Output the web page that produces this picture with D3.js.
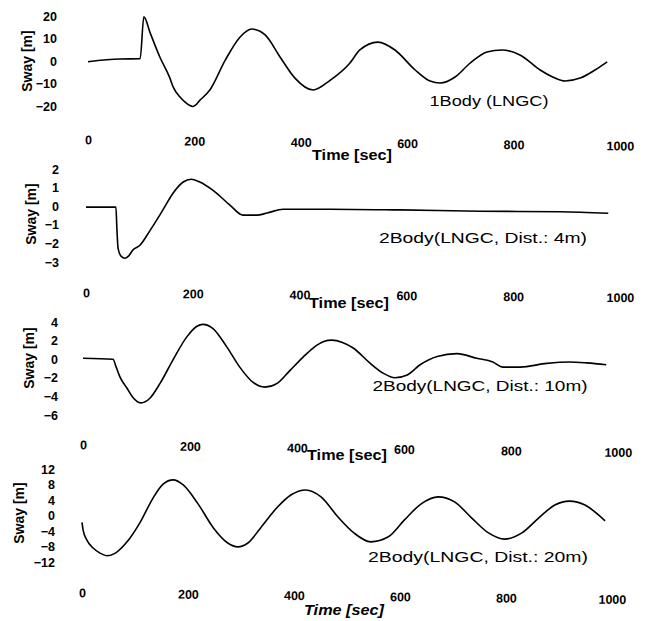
<!DOCTYPE html>
<html>
<head>
<meta charset="utf-8">
<script src="https://cdn.jsdelivr.net/npm/d3@7"></script>
<style>
  html, body { margin: 0; padding: 0; background: #fff; }
  svg { display: block; }
  text { font-family: "Liberation Sans", Arial, sans-serif; fill: #000; }
  .tick text { font-weight: bold; font-size: 12.5px; }
</style>
</head>
<body>
<svg id="chart" width="649" height="621"></svg>
<script>
// tick labels
const timeTicks = [0, 200, 400, 600, 800, 1000];
const swayTicks1 = [20, 10, 0, -10, -20];
const swayTicks2 = [2, 1, 0, -1, -2, -3];
const swayTicks3 = [4, 2, 0, -2, -4, -6];
const swayTicks4 = [12, 8, 4, 0, -4, -8, -12];

const panelNames = [
  '1Body (LNGC)',
  '2Body(LNGC, Dist.: 4m)',
  '2Body(LNGC, Dist.: 10m)',
  '2Body(LNGC, Dist.: 20m)',
];

// series: time [sec] and sway [m]
const time1 = [0, 60, 98, 105, 117, 135, 154, 160, 173, 182, 197, 211, 229, 258, 286, 308, 333, 361, 389, 423, 455, 492, 511, 545, 577, 615, 643, 662, 690, 718, 750, 778, 812, 850, 878, 897, 925, 953, 976];
const sway1 = [-0.3, 0.9, 1.0, 19.6, 12.4, 1.8, -7.6, -11.5, -16, -18.2, -20.2, -17.3, -12.9, 0.4, 10.7, 14.2, 11.6, 1.8, -7.6, -12.9, -8.6, -1, 4.9, 8.4, 4.9, -4, -8.9, -9.8, -7.1, -1, 4, 4.9, 2.7, -4, -7.6, -8.9, -7.6, -4, -0.4];

const time2 = [0, 56, 58, 60, 66, 73, 79, 88, 101, 120, 144, 163, 182, 197, 213, 238, 270, 294, 320, 339, 369, 401, 457, 588, 738, 888, 978];
const sway2 = [-0.05, -0.05, -1.3, -2.25, -2.7, -2.8, -2.7, -2.35, -2.1, -1.3, -0.2, 0.7, 1.3, 1.45, 1.3, 0.85, 0.05, -0.48, -0.48, -0.37, -0.16, -0.16, -0.16, -0.2, -0.27, -0.3, -0.38];

const time3 = [0, 56, 62, 69, 82, 93, 108, 125, 144, 168, 194, 213, 224, 243, 269, 293, 318, 340, 363, 387, 411, 430, 450, 465, 485, 505, 536, 561, 583, 606, 630, 662, 699, 736, 766, 785, 817, 867, 910, 942, 978];
const sway3 = [0.1, 0, -0.85, -1.9, -3.1, -4.1, -4.7, -4.2, -2.6, -0.1, 2.4, 3.55, 3.75, 3.3, 1.3, -0.85, -2.5, -3.0, -2.6, -1.2, 0.2, 1.2, 1.9, 2.05, 1.8, 1.2, -0.4, -1.5, -2.0, -1.7, -0.6, 0.3, 0.6, 0.1, -0.3, -0.85, -0.85, -0.45, -0.3, -0.4, -0.6];

const time4 = [0, 2, 9, 21, 34, 47, 63, 85, 110, 134, 153, 172, 191, 218, 248, 275, 294, 313, 337, 369, 394, 422, 451, 483, 513, 545, 578, 608, 640, 672, 703, 735, 767, 797, 830, 862, 892, 920, 949, 975, 987];
const sway4 = [-1.8, -3.7, -6.3, -8.4, -9.7, -10.4, -9.7, -6.8, -1.7, 4.5, 8.1, 9.2, 7.9, 3.2, -3.2, -7.1, -8.1, -7.1, -3.2, 2.2, 5.3, 6.6, 4.8, -0.4, -4.5, -6.8, -5.5, -1.2, 3.0, 4.8, 3.5, -0.6, -4.5, -6.1, -4.5, -0.6, 2.7, 3.7, 2.7, 0.1, -1.4];

// where each scanned panel sits on the page
const layout = [
  { x0: 88, x1: 620, yTop: 16, yBot: 106, tickRight: 57, xLabelY: 140, tilt: 0.65,
    swayX: 27, swayY: 61, titleX: 489, titleY: 106, titleW: 119, timeX: 352, timeY: 160 },
  { x0: 86, x1: 620, yTop: 169, yBot: 262, tickRight: 59, xLabelY: 293, tilt: 0.5,
    swayX: 31, swayY: 214, titleX: 483, titleY: 243, titleW: 208, timeX: 349, timeY: 308 },
  { x0: 83, x1: 618, yTop: 322, yBot: 415, tickRight: 58, xLabelY: 445, tilt: 0.8,
    swayX: 29, swayY: 358, titleX: 480, titleY: 391, titleW: 215, timeX: 347, timeY: 460 },
  { x0: 82, x1: 612, yTop: 469, yBot: 562, tickRight: 55, xLabelY: 593, tilt: 0.7,
    swayX: 19, swayY: 513, titleX: 478, titleY: 562, titleW: 220, timeX: 344, timeY: 615, italic: true },
];

const series = [
  { time: time1, sway: sway1, ticks: swayTicks1 },
  { time: time2, sway: sway2, ticks: swayTicks2 },
  { time: time3, sway: sway3, ticks: swayTicks3 },
  { time: time4, sway: sway4, ticks: swayTicks4 },
];

const svg = d3.select('#chart');

function drawPanel(s, box, name) {
  const ticks = s.ticks;
  const x = d3.scaleLinear().domain([0, 1000]).range([box.x0, box.x1]);
  const y = d3.scaleLinear()
    .domain([ticks[0], ticks[ticks.length - 1]])
    .range([box.yTop, box.yBot]);

  const g = svg.append('g');

  // y axis: labels only, no line
  const yAxis = g.append('g')
    .attr('transform', `translate(${box.tickRight},0)`)
    .call(d3.axisLeft(y).tickValues(ticks).tickSize(0).tickPadding(0).tickFormat(d3.format('d')));
  yAxis.select('.domain').remove();
  yAxis.selectAll('.tick text').attr('font-family', null).attr('font-size', null);

  // x axis: labels only, a little tilted like the scan
  const xAxis = g.append('g')
    .attr('transform', `translate(0,${box.xLabelY - 4.5}) rotate(${box.tilt},${box.x0},0)`)
    .call(d3.axisBottom(x).tickValues(timeTicks).tickSize(0).tickPadding(0).tickFormat(d3.format('d')));
  xAxis.select('.domain').remove();
  xAxis.selectAll('.tick text').attr('font-family', null).attr('font-size', null);

  g.append('text')
    .attr('transform', `translate(${box.swayX + 5},${box.swayY}) rotate(-90)`)
    .attr('text-anchor', 'middle')
    .attr('font-weight', 'bold')
    .attr('font-size', 14)
    .text('Sway [m]');

  g.append('text')
    .attr('x', box.timeX)
    .attr('y', box.timeY)
    .attr('text-anchor', 'middle')
    .attr('font-weight', 'bold')
    .attr('font-size', 14)
    .attr('font-style', box.italic ? 'italic' : null)
    .attr('textLength', 80)
    .attr('lengthAdjust', 'spacingAndGlyphs')
    .text('Time [sec]');

  g.append('text')
    .attr('x', box.titleX)
    .attr('y', box.titleY)
    .attr('text-anchor', 'middle')
    .attr('font-size', 15)
    .attr('textLength', box.titleW)
    .attr('lengthAdjust', 'spacingAndGlyphs')
    .text(name);

  const line = d3.line()
    .x((d) => x(d[0]))
    .y((d) => y(d[1]))
    .curve(d3.curveMonotoneX);

  g.append('path')
    .datum(d3.zip(s.time, s.sway))
    .attr('fill', 'none')
    .attr('stroke', '#000')
    .attr('stroke-width', 1.6)
    .attr('stroke-linejoin', 'round')
    .attr('d', line);
}

series.forEach((s, i) => drawPanel(s, layout[i], panelNames[i]));
</script>
</body>
</html>
